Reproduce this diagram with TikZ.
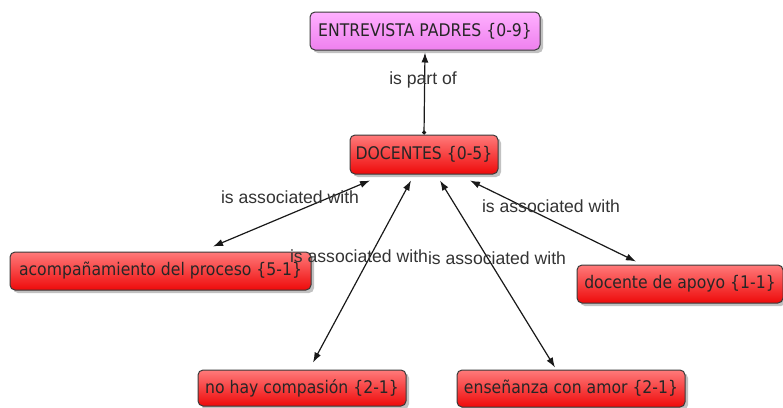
\documentclass[tikz,border=0pt]{standalone}
\usepackage{fontspec}
\setmainfont{Liberation Sans}
\newfontfamily\nodefont[FakeStretch=0.9]{DejaVu Sans}
\usetikzlibrary{shadows,arrows.meta}
\definecolor{redtop}{HTML}{FF7A7A}
\definecolor{redbot}{HTML}{EE0A0A}
\definecolor{pinktop}{HTML}{FFB0FF}
\definecolor{pinkbot}{HTML}{EE80EE}
\definecolor{boxline}{HTML}{3A3A3A}
\definecolor{labeltext}{HTML}{333333}
\tikzset{
  concept/.style={draw=boxline, line width=1pt, rounded corners=5pt,
    inner sep=0pt, text=black!85,
    font=\nodefont\fontsize{17.4}{19}\selectfont,
    drop shadow={shadow xshift=3pt, shadow yshift=-3pt, opacity=0.4, fill=black!60}},
  redc/.style={concept, top color=redtop, bottom color=redbot},
  pinkc/.style={concept, top color=pinktop, bottom color=pinkbot},
  lbl/.style={text=labeltext, inner sep=0pt, font=\fontsize{17.6}{20}\selectfont},
  link/.style={line width=1.2pt, draw=black!90, {Latex[length=10pt,width=7pt]}-{Latex[length=10pt,width=7pt]}},
  uplink/.style={line width=1.2pt, draw=black!90, {Circle[length=4pt]}-{Latex[length=10pt,width=7pt]}}
}
\begin{document}
\begin{tikzpicture}[x=1pt,y=-1pt]
\useasboundingbox (0,0) rectangle (783,407);
\fill[white] (0,0) rectangle (783,407);

\node[pinkc, minimum width=230pt, minimum height=38pt] (ent) at (425,31) {ENTREVISTA PADRES \{0-9\}};
\node[redc, minimum width=148pt, minimum height=39pt] (doc) at (424,154.5) {DOCENTES \{0-5\}};
\node[redc, minimum width=301pt, minimum height=38pt] (aco) at (160.5,271) {acompañamiento del proceso \{5-1\}};
\node[redc, minimum width=208pt, minimum height=36pt] (noh) at (302,388) {no hay compasión \{2-1\}};
\node[redc, minimum width=228pt, minimum height=37pt] (ens) at (571,388.5) {enseñanza con amor \{2-1\}};
\node[redc, minimum width=206pt, minimum height=38pt] (dap) at (680,284) {docente de apoyo \{1-1\}};

\draw[uplink] (doc.north) -- ([yshift=-2pt]ent.south);
\draw[link] ([xshift=-54pt,yshift=-6pt]doc.south) -- ([xshift=52.5pt,yshift=5pt]aco.north);
\draw[link] ([xshift=-13pt,yshift=-6pt]doc.south) -- ([xshift=11pt,yshift=7pt]noh.north);
\draw[link] ([xshift=16pt,yshift=-6pt]doc.south) -- ([xshift=-16pt,yshift=2pt]ens.north);
\draw[link] ([xshift=46pt,yshift=-6pt]doc.south) -- ([xshift=-44pt,yshift=3pt]dap.north);

\node[lbl] (l0) at (423,80) {is part of};
\node[lbl] (l1) at (290,197) {is associated with};
\node[lbl] (l2) at (359,256) {is associated with};
\node[lbl] (l3) at (497,258) {is associated with};
\node[lbl] (l4) at (551,206) {is associated with};
\end{tikzpicture}
\end{document}
